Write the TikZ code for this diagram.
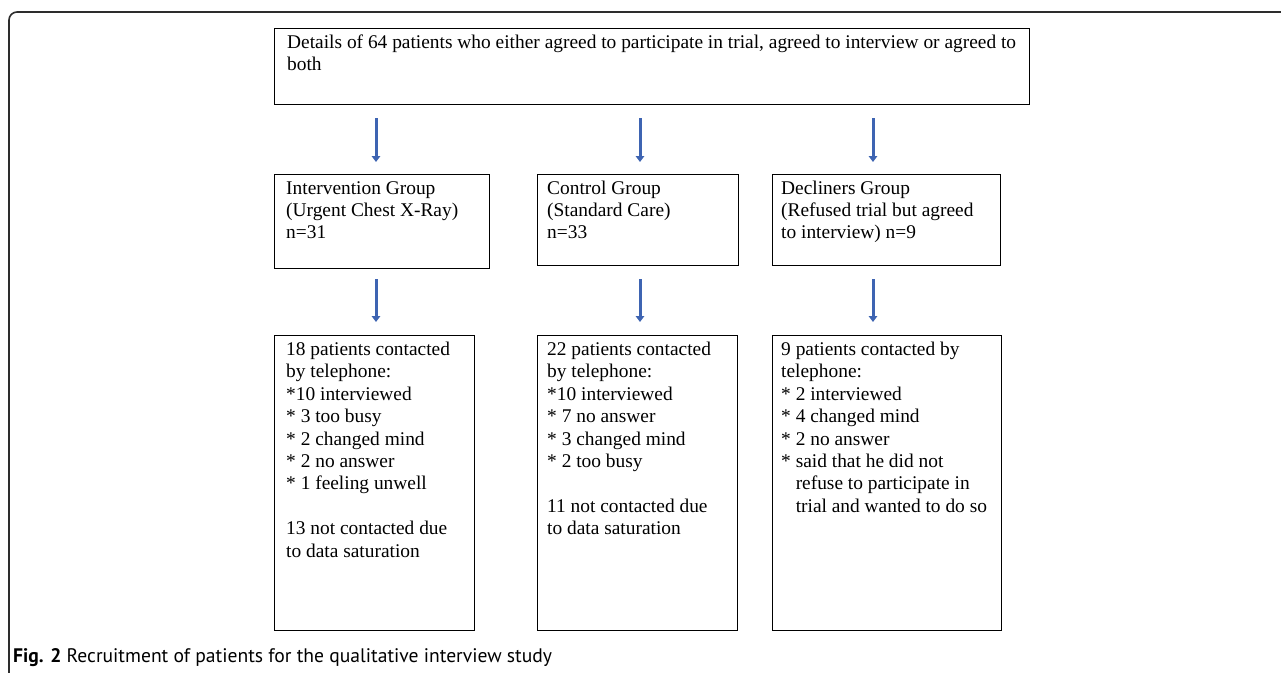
\documentclass[tikz,border=0pt]{standalone}
\usepackage{fontspec}
\setmainfont{Liberation Serif}
\newfontfamily\capfont{PT Sans}
\usetikzlibrary{arrows.meta}
\definecolor{arrowblue}{RGB}{62,100,178}
\definecolor{framegray}{RGB}{45,45,45}
\newcommand{\st}{{*}}
\begin{document}
\begin{tikzpicture}[x=1pt,y=-1pt,
  box/.style={draw=black, line width=1.2pt, anchor=north west, inner sep=0pt},
  txt/.style={anchor=base west, inner sep=0pt, font=\fontsize{19.4}{22.4}\selectfont},
  arr/.style={draw=arrowblue, line width=3pt, -{Triangle[width=8.5pt,length=6pt]}},
  frame/.style={draw=framegray, line width=1.6pt, rounded corners=8pt}]
\useasboundingbox (0,0) rectangle (1281,672);
\draw[frame] (1300,12) -- (9,12) -- (9,700);
% boxes
\node[box, minimum width=755pt, minimum height=76pt] (top) at (274,28) {};
\node[box, minimum width=215pt, minimum height=94pt] (int) at (274,174) {};
\node[box, minimum width=201pt, minimum height=91pt] (ctl) at (537,174) {};
\node[box, minimum width=228pt, minimum height=91pt] (dec) at (772,174) {};
\node[box, minimum width=200pt, minimum height=295pt] (intb) at (274,335) {};
\node[box, minimum width=200pt, minimum height=295pt] (ctlb) at (537,335) {};
\node[box, minimum width=229pt, minimum height=295pt] (decb) at (772,335) {};
% texts
\node[txt] (toptxt) at ([xshift=13pt,yshift=-20pt]top.north west)
  {\begin{tabular}[t]{@{}l@{}}Details of 64 patients who either agreed to participate in trial, agreed to interview or agreed to\\both\end{tabular}};
\node[txt] (inttxt) at ([xshift=12pt,yshift=-20pt]int.north west)
  {\begin{tabular}[t]{@{}l@{}}Intervention Group\\(Urgent Chest X-Ray)\\n=31\end{tabular}};
\node[txt] (ctltxt) at ([xshift=10pt,yshift=-20pt]ctl.north west)
  {\begin{tabular}[t]{@{}l@{}}Control Group\\(Standard Care)\\n=33\end{tabular}};
\node[txt] (dectxt) at ([xshift=9pt,yshift=-20pt]dec.north west)
  {\begin{tabular}[t]{@{}l@{}}Decliners Group\\(Refused trial but agreed\\to interview) n=9\end{tabular}};
\node[txt] (intbtxt) at ([xshift=12pt,yshift=-20.5pt]intb.north west)
  {\begin{tabular}[t]{@{}l@{}}18 patients contacted\\by telephone:\\\st10 interviewed\\\st{} 3 too busy\\\st{} 2 changed mind\\\st{} 2 no answer\\\st{} 1 feeling unwell\\[22.4pt]13 not contacted due\\to data saturation\end{tabular}};
\node[txt] (ctlbtxt) at ([xshift=10pt,yshift=-20.5pt]ctlb.north west)
  {\begin{tabular}[t]{@{}l@{}}22 patients contacted\\by telephone:\\\st10 interviewed\\\st{} 7 no answer\\\st{} 3 changed mind\\\st{} 2 too busy\\[22.4pt]11 not contacted due\\to data saturation\end{tabular}};
\node[txt] (decbtxt) at ([xshift=9pt,yshift=-20.5pt]decb.north west)
  {\begin{tabular}[t]{@{}l@{}}9 patients contacted by\\telephone:\\\st{} 2 interviewed\\\st{} 4 changed mind\\\st{} 2 no answer\\\st{} said that he did not\\\hphantom{\st{} }refuse to participate in\\\hphantom{\st{} }trial and wanted to do so\end{tabular}};
% arrow columns
\coordinate (c1) at (376,0);
\coordinate (c2) at (640,0);
\coordinate (c3) at (873,0);
\draw[arr, shorten <=13pt, shorten >=12pt] (top.south -| c1) -- (int.north -| c1);
\draw[arr, shorten <=13pt, shorten >=12pt] (top.south -| c2) -- (ctl.north -| c2);
\draw[arr, shorten <=13pt, shorten >=12pt] (top.south -| c3) -- (dec.north -| c3);
\draw[arr, shorten <=10pt, shorten >=13pt] (int.south -| c1) -- (intb.north -| c1);
\draw[arr, shorten <=13pt, shorten >=13pt] (ctl.south -| c2) -- (ctlb.north -| c2);
\draw[arr, shorten <=13pt, shorten >=13pt] (dec.south -| c3) -- (decb.north -| c3);
% caption
\node[anchor=base west, inner sep=0pt, font=\capfont\fontsize{19.6}{22}\selectfont] (cap) at (13,662)
  {\textbf{Fig. 2} Recruitment of patients for the qualitative interview study};
\end{tikzpicture}
\end{document}
